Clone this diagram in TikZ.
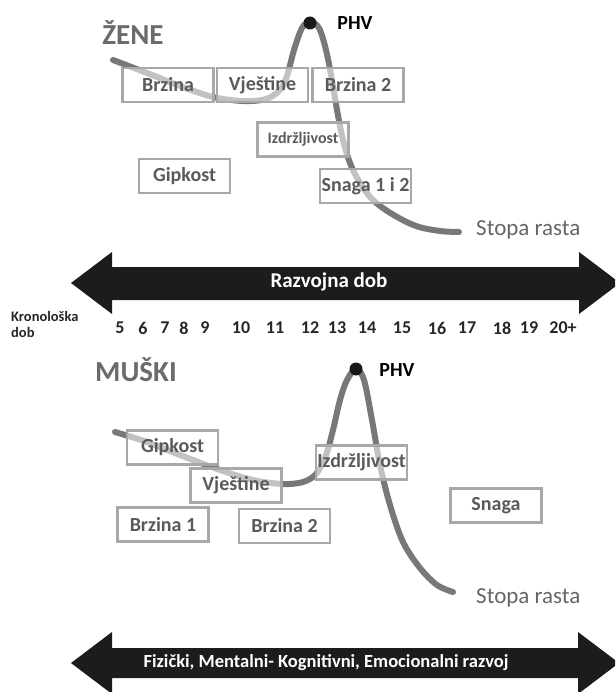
\documentclass[tikz,border=0pt]{standalone}
\usepackage{fontspec}
\setmainfont{Carlito}
\usepackage{tikz}
\usetikzlibrary{positioning}
\definecolor{crta}{HTML}{787878}
\definecolor{okvir}{HTML}{A8A8A8}
\definecolor{tekst}{HTML}{5A5A5A}
\definecolor{strelica}{HTML}{1C1C1C}
\tikzset{
  kut/.style={draw=okvir, line width=2.2pt, fill=white, fill opacity=0.55, text opacity=1, text=tekst, font=\fontsize{20}{22}\selectfont\bfseries, minimum width=91pt, minimum height=34pt, inner sep=0pt},
  krivulja/.style={draw=crta, line width=6pt, line cap=round},
  naslov/.style={text=tekst!90!white, font=\fontsize{29}{31}\selectfont\bfseries, inner sep=0pt},
  phv/.style={text=black, font=\fontsize{20}{22}\selectfont\bfseries, inner sep=0pt},
  rast/.style={text=crta!85!black, font=\fontsize{23}{25}\selectfont, inner sep=0pt, anchor=west},
  broj/.style={text=black!85, font=\fontsize{18}{19}\selectfont\bfseries, inner sep=0pt},
  vrh/.style={circle, fill=black!90, inner sep=0pt, minimum size=13pt},
  traka/.style={text=white, font=\fontsize{21}{22}\selectfont\bfseries, inner sep=0pt}
}
\begin{document}
\begin{tikzpicture}[x=1pt, y=-1pt]
\clip (0,0) rectangle (615,692);

\node[naslov] (zene) at (133,33) {ŽENE};
\draw[krivulja] plot[smooth, tension=0.55] coordinates {(113,60) (147,73) (180,86) (213,97) (243,101) (266,99) (280,90) (287,76) (294,50) (302,28) (310,22) (319,28) (326,50) (332,80) (337,110) (343,140) (350,163) (360,183) (373,200) (392,214) (416,226) (440,231) (459,232)} coordinate (zkraj);
\node[kut] (zbrz) at (168,85) {Brzina};
\node[kut] (zvje) at (262.5,85) {Vještine};
\node[kut] (zbrz2) at (358,85) {Brzina 2};
\node[kut, font=\fontsize{16}{17}\selectfont\bfseries] (zizd) at (303,139.5) {Izdržljivost};
\node[kut] (zgip) at (184.5,176) {Gipkost};
\node[kut] (zsna) at (365.5,186) {Snaga 1 i 2};
\node[vrh] (zvrh) at (310,23) {};
\node[phv] (zphv) at (355,23) {PHV};
\node[rast] (zrast) at (476,230) {Stopa rasta};

\fill[strelica] (71,283) -- (112,252) -- (112,267) -- (579,267) -- (579,252) -- (620,283) -- (579,314) -- (579,300) -- (112,300) -- (112,314) -- cycle;
\node[traka] (razv) at (329,282) {Razvojna dob};
\node[text=black!85, font=\fontsize{14.5}{16}\selectfont\bfseries, align=left, anchor=west, inner sep=0pt] (kron) at (11,324) {Kronološka\\dob};
\foreach \x/\b [count=\i] in {120/5,143/6,165/7,184/8,205/9,241/10,275/11,310/12,337/13,367/14,402/15,437/16,467/17,502/18,529/19,563/20+}
  \node[broj] (g\i) at (\x,328) {\b};

\node[naslov] (muski) at (136,370) {MUŠKI};
\draw[krivulja] plot[smooth, tension=0.55] coordinates {(115,432) (147,442) (180,455) (220,470) (253,480) (283,484) (303,482) (316,474) (326,455) (333,430) (340,400) (347,380) (356,369) (364,380) (372,420) (380,465) (390,505) (403,542) (420,568) (437,585) (453,592)} coordinate (mkraj);
\node[kut] (mgip) at (172.5,447.5) {Gipkost};
\node[kut] (mvje) at (236,485.5) {Vještine};
\node[kut] (mizd) at (361.5,462.5) {Izdržljivost};
\node[kut] (mbrz1) at (163,524.5) {Brzina 1};
\node[kut] (mbrz2) at (284.5,526) {Brzina 2};
\node[kut] (msna) at (496,505.5) {Snaga};
\node[vrh] (mvrh) at (356,369) {};
\node[phv] (mphv) at (397,370) {PHV};
\node[rast] (mrast) at (476,598) {Stopa rasta};

\fill[strelica] (71,663) -- (112,632) -- (112,648) -- (578,648) -- (578,632) -- (619,663) -- (578,694) -- (578,678) -- (112,678) -- (112,694) -- cycle;
\node[traka, font=\fontsize{18.5}{20}\selectfont\bfseries] (razvoj) at (326,663) {Fizički, Mentalni- Kognitivni, Emocionalni razvoj};
\end{tikzpicture}
\end{document}
